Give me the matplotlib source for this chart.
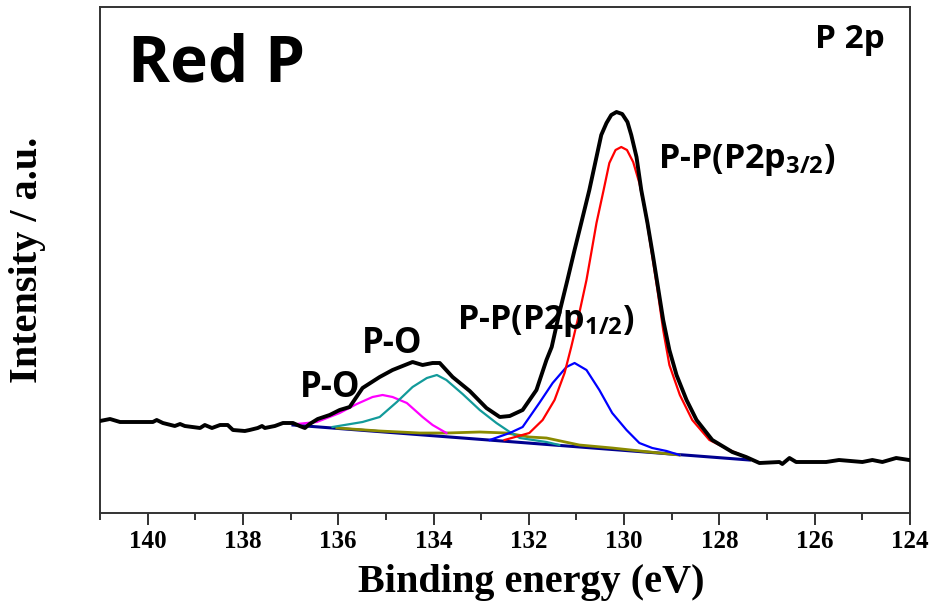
import matplotlib
matplotlib.use("Agg")
import matplotlib.pyplot as plt
from matplotlib.ticker import MultipleLocator

# ---- P 2p XPS spectrum of red phosphorus (binding energy in eV, intensity in a.u.) ----
measured_be = [141.00, 140.79, 140.58, 139.89, 139.81, 139.68, 139.43, 139.32, 139.22,
               138.90, 138.80, 138.65, 138.48, 138.32, 138.21, 137.96, 137.86, 137.69,
               137.60, 137.54, 137.33, 137.16, 136.95, 136.81, 136.70, 136.60, 136.43,
               136.18, 135.97, 135.76, 135.49, 135.13, 134.86, 134.44, 134.23, 134.02,
               133.87, 133.60, 133.24, 132.89, 132.61, 132.40, 132.13, 131.84, 131.63,
               131.52, 131.36, 131.19, 131.04, 130.90, 130.73, 130.58, 130.48, 130.37,
               130.27, 130.16, 130.04, 129.93, 129.85, 129.74, 129.64, 129.51, 129.39,
               129.28, 129.18, 129.05, 128.90, 128.69, 128.48, 128.15, 127.73, 127.44,
               127.16, 126.74, 126.68, 126.53, 126.39, 125.76, 125.49, 125.00, 124.79,
               124.58, 124.29, 124.02]
measured_int = [92, 94, 91, 91, 93, 90, 87, 89, 87,
                85, 88, 85, 88, 88, 83, 82, 83, 85,
                87, 85, 87, 90, 90, 87, 85, 89, 94,
                98, 103, 106, 125, 136, 143, 151, 148, 150,
                150, 136, 122, 105, 96, 97, 103, 123, 153,
                166, 200, 233, 263, 290, 323, 356, 378, 390,
                398, 401, 399, 391, 378, 356, 323, 290, 256,
                223, 193, 163, 138, 113, 93, 73, 61, 56,
                50, 51, 49, 55, 51, 51, 53, 51, 53,
                51, 55, 53]

# P-P (P 2p3/2) component
pp32_be = [132.51, 131.99, 131.71, 131.46, 131.25, 131.11, 130.94, 130.79, 130.69,
           130.58, 130.43, 130.31, 130.18, 130.06, 129.94, 129.81, 129.68, 129.55,
           129.43, 129.30, 129.18, 129.05, 128.83, 128.57, 128.21, 127.79, 127.44]
pp32_int = [73, 80, 93, 113, 140, 166, 200, 233, 260,
            290, 323, 350, 363, 366, 363, 351, 330, 300,
            263, 223, 183, 148, 118, 93, 73, 63, 56]

# P-P (P 2p1/2) component
pp12_be = [132.82, 132.40, 132.13, 131.78, 131.50, 131.21, 131.04, 130.79, 130.52,
           130.25, 129.95, 129.68, 129.41, 129.11, 128.84]
pp12_int = [73, 80, 86, 110, 130, 146, 150, 143, 123,
            100, 83, 70, 65, 62, 58]

# P-O component near 134 eV
po134_be = [136.12, 135.49, 135.13, 134.77, 134.44, 134.14, 133.93, 133.73, 133.39,
            133.03, 132.68, 132.40, 132.19, 131.63, 131.36]
po134_int = [86, 91, 96, 111, 126, 135, 138, 133, 119,
             103, 90, 81, 75, 71, 68]

# P-O component near 135 eV
po135_be = [136.87, 136.45, 135.97, 135.61, 135.28, 135.07, 134.86, 134.56, 134.23,
            134.02, 133.73]
po135_int = [89, 91, 100, 109, 116, 118, 116, 110, 96, 88, 80]

# broad minor component
minor_be = [136.03, 135.13, 134.29, 133.73, 133.03, 132.47, 131.99, 131.63, 130.94,
            130.25, 129.47, 128.84]
minor_int = [85, 82, 80, 80, 81, 80, 76, 75, 68, 65, 61, 58]

# linear background
bg_be = [136.95, 127.37]
bg_int = [88, 53]

x_ticks = [140, 138, 136, 134, 132, 130, 128, 126, 124]

W, H = 933, 603
fig = plt.figure(figsize=(W / 100, H / 100), dpi=100)
ax = fig.add_axes([100 / W, 1 - 513 / H, 810 / W, 506 / H])

ax.plot(bg_be, bg_int, color="#000090", lw=2.2, zorder=3)
ax.plot(minor_be, minor_int, color="#8a8a00", lw=2.0, zorder=3)
ax.plot(po135_be, po135_int, color="#ff00ff", lw=1.6, zorder=4)
ax.plot(po134_be, po134_int, color="#129a9a", lw=1.6, zorder=4)
ax.plot(pp12_be, pp12_int, color="#0000ff", lw=1.6, zorder=4)
ax.plot(pp32_be, pp32_int, color="#ff0000", lw=1.6, zorder=5)
ax.plot(measured_be, measured_int, color="black", lw=2.8, zorder=6,
        solid_joinstyle="round")

ax.set_xlim(141, 124)
ax.set_ylim(0, 506)
ax.set_xticks(x_ticks)
ax.xaxis.set_minor_locator(MultipleLocator(1))
ax.set_yticks([93])
ax.set_yticklabels([])
ax.tick_params(axis="x", which="major", direction="out", length=8.5, width=1.3,
               color="#222222", pad=4)
ax.tick_params(axis="x", which="minor", direction="out", length=5, width=1.3,
               color="#222222")
ax.tick_params(axis="y", which="major", direction="in", length=7, width=1.3,
               color="#222222")
for lbl in ax.get_xticklabels():
    lbl.set_fontfamily("Liberation Serif")
    lbl.set_fontweight("bold")
    lbl.set_fontsize(18)
for sp in ax.spines.values():
    sp.set_linewidth(1.4)
    sp.set_color("#333333")

sans = ["Open Sans", "DejaVu Sans"]
fig.text(128 / W, 1 - 82 / H, "Red P", fontfamily=sans, fontweight="bold",
         fontsize=46, ha="left", va="baseline")
fig.text(885 / W, 1 - 48 / H, "P 2p", fontfamily=sans, fontweight="bold",
         fontsize=24, ha="right", va="baseline")
fig.text(658 / W, 1 - 168 / H, r"P-P(P2p$\mathregular{_{3/2}}$)", fontfamily=sans,
         fontweight="bold", fontsize=24.5, ha="left", va="baseline", zorder=1)
fig.text(457 / W, 1 - 329 / H, r"P-P(P2p$\mathregular{_{1/2}}$)", fontfamily=sans,
         fontweight="bold", fontsize=24.5, ha="left", va="baseline", zorder=1)
fig.text(362 / W, 1 - 353 / H, "P-O", fontfamily=sans, fontweight="bold",
         fontsize=25, ha="left", va="baseline", zorder=1)
fig.text(300 / W, 1 - 397 / H, "P-O", fontfamily=sans, fontweight="bold",
         fontsize=25, ha="left", va="baseline", zorder=1)

fig.text(531 / W, 1 - 592 / H, "Binding energy (eV)", fontfamily="Liberation Serif",
         fontweight="bold", fontsize=29, ha="center", va="baseline")
fig.text(28 / W, 1 - 260 / H, "Intensity / a.u.", fontfamily="Liberation Serif",
         fontweight="bold", fontsize=29, ha="center", va="center", rotation=90)

fig.savefig("out.png", dpi=100)
